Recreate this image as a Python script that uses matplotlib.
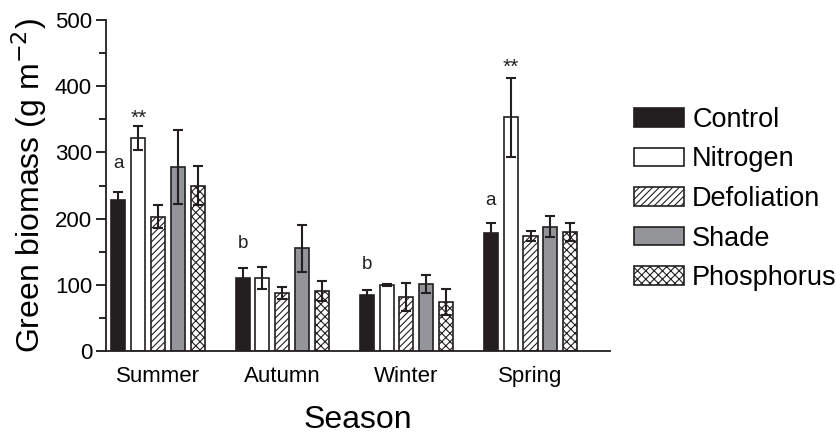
import numpy as np
import matplotlib
matplotlib.use("Agg")
import matplotlib.pyplot as plt
from matplotlib.ticker import MultipleLocator

plt.rcParams["font.family"] = ["Liberation Sans", "DejaVu Sans"]
plt.rcParams["hatch.linewidth"] = 0.8

seasons = ["Summer", "Autumn", "Winter", "Spring"]
treatments = ["Control", "Nitrogen", "Defoliation", "Shade", "Phosphorus"]

control = [228, 110, 85, 179]
nitrogen = [322, 110, 99, 353]
defoliation = [203, 88, 82, 174]
shade = [278, 155, 101, 188]
phosphorus = [250, 91, 74, 180]

control_err = [12, 16, 7, 14]
nitrogen_err = [18, 17, 1.5, 60]
defoliation_err = [17, 9, 21, 8]
shade_err = [56, 36, 14, 16]
phosphorus_err = [30, 15, 20, 14]

# significance letters: (season index, treatment index, text, y)
marks = [(0, 0, "a", 283), (0, 1, "**", 352),
         (1, 0, "b", 163), (2, 0, "b", 131),
         (3, 0, "a", 228), (3, 1, "**", 428)]

values = [control, nitrogen, defoliation, shade, phosphorus]
errors = [control_err, nitrogen_err, defoliation_err, shade_err, phosphorus_err]
colors = ["#231f20", "white", "white", "#939598", "white"]
hatches = [None, None, "/////", None, "xxxx"]

fig = plt.figure(figsize=(8.37, 4.34), dpi=100)
ax = fig.add_axes([0.1266, 0.1912, 0.6022, 0.7627])

x = np.arange(len(seasons))
step = 0.161
width = 0.113
for j in range(len(treatments)):
    xs = x + (j - 2) * step
    ax.bar(xs, values[j], width=width, color=colors[j], edgecolor="#231f20",
           linewidth=1.2, hatch=hatches[j], label=treatments[j], zorder=2)
    ax.errorbar(xs, values[j], yerr=errors[j], fmt="none", ecolor="#231f20",
                elinewidth=1.5, capsize=3.5, capthick=1.5, zorder=3)

for si, ti, txt, yv in marks:
    fs = 15 if txt == "**" else 13.5
    ax.text(x[si] + (ti - 2) * step, yv, txt, ha="center", va="center",
            fontsize=fs, color="#231f20")

ax.set_xlim(-0.423, 3.641)
ax.set_ylim(0, 500)
ax.yaxis.set_major_locator(MultipleLocator(100))
ax.yaxis.set_minor_locator(MultipleLocator(50))
ax.set_xticks(x)
ax.set_xticklabels(seasons)
ax.tick_params(axis="x", length=0, labelsize=16, pad=11)
ax.tick_params(axis="y", which="major", length=7, width=1.2, labelsize=16,
               direction="out", pad=3)
ax.tick_params(axis="y", which="minor", length=5, width=1.2, direction="out")
for s in ["top", "right"]:
    ax.spines[s].set_visible(False)
for s in ["left", "bottom"]:
    ax.spines[s].set_linewidth(1.3)
    ax.spines[s].set_color("#231f20")

ax.set_ylabel("Green biomass (g m$^{-2}$)", fontsize=23, labelpad=4)
ax.set_xlabel("Season", fontsize=23, labelpad=13)

fig.legend(loc="center left", bbox_to_anchor=(634 / 837, 1 - 199 / 434),
           frameon=False, fontsize=19.5, handlelength=1.85, handleheight=0.68,
           handletextpad=0.3, labelspacing=0.5, borderpad=0,
           borderaxespad=0)

fig.savefig("out.png", dpi=100)
